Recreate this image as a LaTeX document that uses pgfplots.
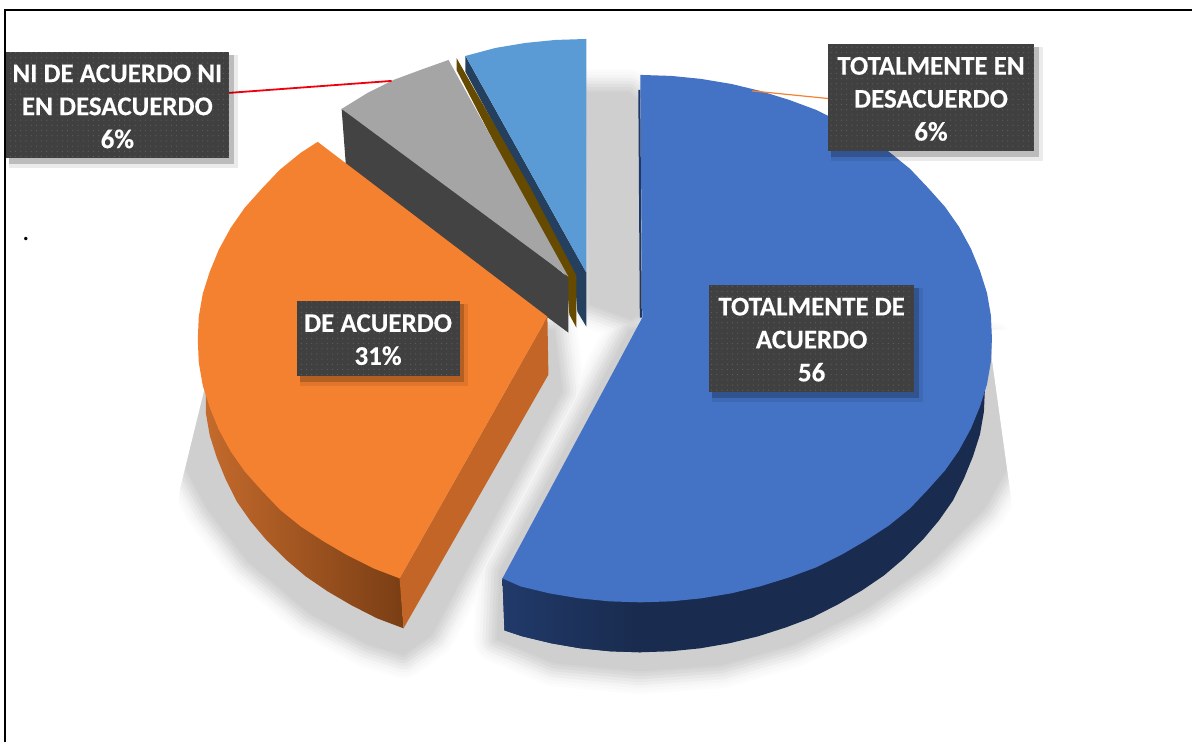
\documentclass[border=0pt]{standalone}
\usepackage{fontspec}
\setmainfont[BoldFeatures={FakeBold=0.3}]{Carlito}
\usepackage{pgfplots}
\usepackage{pgfplotstable}
\pgfplotsset{compat=1.18}
\usetikzlibrary{patterns.meta}
\definecolor{cBlue}{HTML}{4472C4}
\definecolor{cOrange}{HTML}{F4812F}
\definecolor{cGrey}{HTML}{A5A5A5}
\definecolor{cDark}{HTML}{434343}
\definecolor{cLight}{HTML}{5B9BD5}
\definecolor{cGold}{HTML}{664A00}
\definecolor{cNavy}{HTML}{25405E}
\definecolor{cBox}{HTML}{404040}
\definecolor{cDot}{HTML}{606060}
\definecolor{cOrL}{HTML}{C46A2C}
\definecolor{cOrR}{HTML}{7A3E14}
\definecolor{cOrS}{HTML}{C26526}
\definecolor{cBlL}{HTML}{213A6A}
\definecolor{cBlR}{HTML}{192B4E}
\definecolor{cBlE}{HTML}{1F3864}
\definecolor{cRed}{HTML}{F0000A}
% shadow outlines (pixel coordinates of the picture)
\pgfplotstableread{
x y
205 385
198 400
186 470
208 510
248 562
310 614
368 645
404 656
432 636
470 565
563 392
555 330
300 350
}\shadowOrange
\pgfplotstableread{
x y
992 345
1000 400
1008 470
985 510
932 563
866 610
795 645
722 666
640 672
555 664
497 640
500 572
630 330
800 300
}\shadowBlue
\pgfplotstableread{
x y
587 92
630 92
650 110
650 310
632 320
610 312
590 305
}\shadowBack
\newcommand\shadowlayer[2]{%
  \addplot[draw=#2,line width=#1,line join=round] table[x=x,y=y] {\shadowOrange} -- cycle;
  \addplot[draw=#2,line width=#1,line join=round] table[x=x,y=y] {\shadowBlue} -- cycle;
  \addplot[draw=#2,line width=#1,line join=round] table[x=x,y=y] {\shadowBack} -- cycle;
}
\newcommand\lbl[5]{% x0 y0 x1 y1 text
  \fill[black,opacity=.08] (axis cs:#1+3,#2+3) rectangle (axis cs:#3+9,#4+10);
  \fill[black,opacity=.20] (axis cs:#1+3,#2+3) rectangle (axis cs:#3+5,#4+6);
  \fill[cBox] (axis cs:#1,#2) rectangle (axis cs:#3,#4);
  \fill[pattern={Dots[distance=5.2pt,radius=.6pt]},pattern color=cDot] (axis cs:#1,#2) rectangle (axis cs:#3,#4);
  \node[text=white,align=center,font=\fontsize{27}{33}\selectfont\bfseries,inner sep=0pt]
     at (axis cs:{(#1+#3)/2},{(#2+#4)/2+1.5}) {#5};
}
\begin{document}
\begin{tikzpicture}
\begin{axis}[
  width=1193pt,height=743pt,scale only axis,
  xmin=0,xmax=1193,ymin=0,ymax=743,y dir=reverse,
  hide axis,clip=false]
\addplot[draw=none] coordinates {(0,0)(1193,0)(1193,743)(0,743)};
% soft shadows
\shadowlayer{46pt}{white!99!black}
\shadowlayer{40pt}{white!97.5!black}
\shadowlayer{34pt}{white!96!black}
\shadowlayer{28pt}{white!93.5!black}
\shadowlayer{22pt}{white!91!black}
\shadowlayer{16pt}{white!88!black}
\shadowlayer{10pt}{white!85!black}
\shadowlayer{4pt}{white!83!black}
\addplot[fill=white!81!black,draw=none] table[x=x,y=y] {\shadowOrange} -- cycle;
\addplot[fill=white!81!black,draw=none] table[x=x,y=y] {\shadowBlue} -- cycle;
\addplot[fill=white!81!black,draw=none] table[x=x,y=y] {\shadowBack} -- cycle;
% sharp outer edges of the shadow
\addplot[fill=white,draw=none] coordinates {(207,330)(207,380)(180,490)(178,515)(140,515)(140,330)};
\addplot[fill=white,draw=none] coordinates {(993,330)(993,360)(1012,497)(1014,525)(1050,525)(1050,330)};
% frame
\addplot[draw=black,line width=2.6pt] coordinates {(5,743)(5,10)(1193,10)};
% light-blue slice
\addplot[fill=cNavy,draw=none] coordinates {(466,56)(587,273)(587,327)(578,312)(575,276)(530,190)(466,72)};
\addplot[fill=cLight,draw=none] coordinates {(466,56)(496,48)(526,43)(556,40)(587,39)(587,273)};
% gold slice
\addplot[fill=cGold,draw=none] coordinates {(457,58)(532,190)(577,276)(577,328)(570,315)(567,278)(519,190)(457,70)};
% grey slice
\addplot[fill=cDark,draw=none] coordinates {(342,109)(346,162)(345,170)(546,325)(548,317.5)(569,333)(569,278)(450,180)};
\addplot[fill=cGrey,draw=none] coordinates {(569,277)(342,109)(368,93)(394,80)(421,70)(449,60)};
% orange slice
\addplot[left color=cOrL,right color=cOrR,draw=none] coordinates {(206,392)(206,413)(210,436)(217,458)(226,480)(237,502)(251,522)(267,541)(286,560)(306,577)(328,592)(352,606)(377.5,619)(404,629)(400,570)(300,400)};
\addplot[fill=cOrS,draw=none] coordinates {(548,317)(549,375)(404,629)(400,579)};
\addplot[fill=cOrange,draw=none] coordinates {(548,317)(318,142)(301,153)(280,170)(262,189)(245,208)(231,228)(219,250)(210,272)(203,294)(199,317)(198,340)(199,363)(203,386)(210,408)(219,430)(231,452)(245,472)(262,491)(280,510)(301,527)(324,542)(348,556)(374,569)(400,579)};
% blue slice
\addplot[fill=cBlR,draw=none] coordinates {(989,360)(986,389)(985,412)(981,435)(974,457)(965,479)(954,501)(940,521)(924,540)(905,559)(885,576)(863,591)(839,605)(813.5,618)(787,628)(759,637)(730,644)(701,649)(671,652)(641,653)(611,652)(581,649)(552,644)(523,637)(505,631)(503,579)(700,400)};
\addplot[left color=cBlL,right color=cBlR,draw=none] coordinates {(641,653)(611,652)(581,649)(552,644)(523,637)(505,631)(503,579)(641,580)};
\addplot[draw=cBlE,line width=2pt] coordinates {(640,90)(641.5,318)};
\addplot[fill=cBlue,draw=none] coordinates {(643,318)(641,75)(672,76)(702,79)(732,84)(761,91)(790,100)(817,110)(843,123)(867,137)(890,152)(911,169)(929,188)(946,207)(960,227)(972,249)(981,271)(988,293)(992,316)(993,339)(992,362)(988,385)(981,407)(972,429)(960,451)(946,471)(929,490)(911,509)(890,526)(867,541)(843,555)(817,568)(790,578)(761,587)(732,594)(702,599)(672,602)(641,603)(610,602)(580,599)(550,594)(521,587)(503,579)};
% leaders
\addplot[draw=cRed,line width=1.8pt] coordinates {(229,93)(392,81)};
\addplot[draw=cOrange,line width=1.2pt] coordinates {(753,91)(833,99)};
% labels
\lbl{6}{52}{229}{158}{NI DE ACUERDO NI\\EN DESACUERDO\\6\%}
\lbl{829}{44}{1035}{151}{TOTALMENTE EN\\DESACUERDO\\6\%}
\lbl{297}{301}{460}{376}{DE ACUERDO\\31\%}
\lbl{710}{285}{915}{392}{TOTALMENTE DE\\ACUERDO\\56}
\node[font=\fontsize{28}{28}\selectfont,inner sep=0pt] at (axis cs:26,239) {.};
\end{axis}
\end{tikzpicture}
\end{document}
